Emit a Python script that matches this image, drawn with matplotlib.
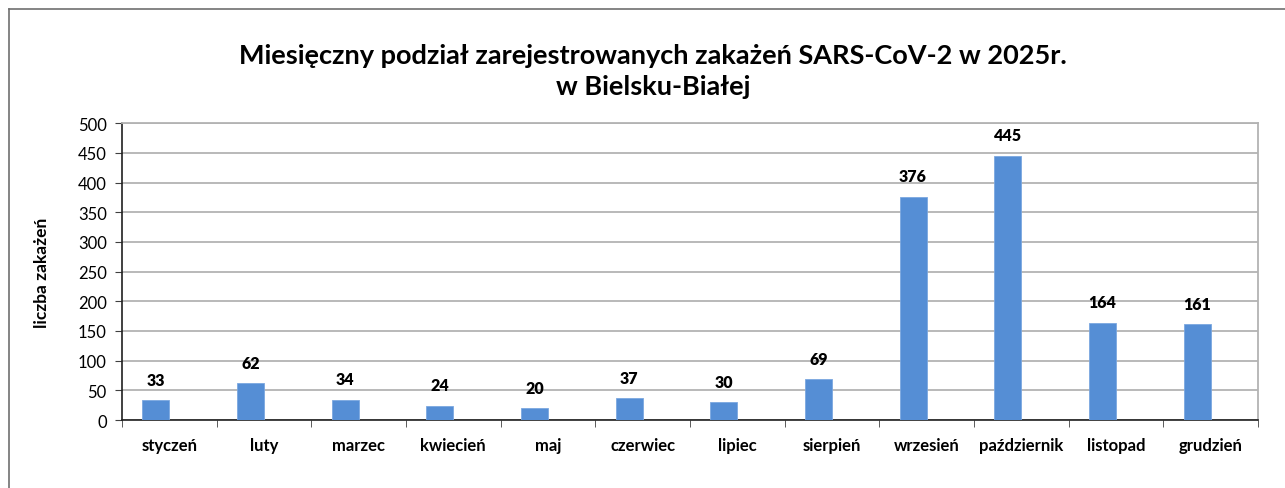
import matplotlib
matplotlib.use('Agg')
from matplotlib import pyplot as plt
from matplotlib.lines import Line2D

plt.rcParams['font.family'] = ['Lato', 'DejaVu Sans']

# data
months = ['styczeń', 'luty', 'marzec', 'kwiecień', 'maj', 'czerwiec',
          'lipiec', 'sierpień', 'wrzesień', 'październik', 'listopad', 'grudzień']
cases = [33, 62, 34, 24, 20, 37, 30, 69, 376, 445, 164, 161]
y_ticks = [0, 50, 100, 150, 200, 250, 300, 350, 400, 450, 500]

title = 'Miesięczny podział zarejestrowanych zakażeń SARS-CoV-2 w 2025r.\nw Bielsku-Białej'
ylabel = 'liczba zakażeń'

fig = plt.figure(figsize=(12.85, 4.89), dpi=100)
ax = fig.add_axes([0.0949, 0.139, 0.884, 0.607])

# Excel-like layout: two series slots, second one empty, gap 150%
w = 1 / 3.5
x = [i - w / 2 for i in range(len(months))]
bars = ax.bar(x, cases, width=w, color='#558ed5', edgecolor='#7ba7e0', linewidth=0.6, zorder=3)

for bx, v in zip(x, cases):
    ax.annotate(str(v), (bx, v), xytext=(0, 9), textcoords='offset points',
                ha='center', va='bottom', fontsize=11.5, fontweight='heavy')

ax.set_xlim(-0.5, len(months) - 0.5)
ax.set_ylim(0, 500)
ax.set_yticks(y_ticks)
ax.tick_params(axis='y', labelsize=12, length=5, color='#404040', pad=6)
ax.yaxis.grid(True, color='#b3b3b3', linewidth=1.3, zorder=0)

ax.set_xticks(range(len(months)))
ax.set_xticklabels(months, fontsize=12, fontweight='bold')
ax.set_xticks([i + 0.5 for i in range(-1, len(months))], minor=True)
ax.tick_params(axis='x', which='major', length=0, pad=12)
ax.tick_params(axis='x', which='minor', length=5, color='#404040')

for s in ['top', 'right']:
    ax.spines[s].set_color('#b3b3b3')
    ax.spines[s].set_linewidth(1.3)
for s in ['left', 'bottom']:
    ax.spines[s].set_color('#202020')
    ax.spines[s].set_linewidth(1.2)

ax.set_ylabel(ylabel, fontsize=12.5, fontweight='bold', labelpad=20)
fig.text(0.508, 0.853, title, ha='center', va='center', fontsize=19.5,
         fontweight='bold', linespacing=1.35)

# outer chart frame (cropped at right and bottom)
fig.add_artist(Line2D([9 / 1285, 9 / 1285], [0, 1 - 10 / 489], transform=fig.transFigure,
                      color='#707070', linewidth=1.2))
fig.add_artist(Line2D([9 / 1285, 1], [1 - 10 / 489, 1 - 10 / 489], transform=fig.transFigure,
                      color='#707070', linewidth=1.2))

fig.savefig('out.png', dpi=100)
